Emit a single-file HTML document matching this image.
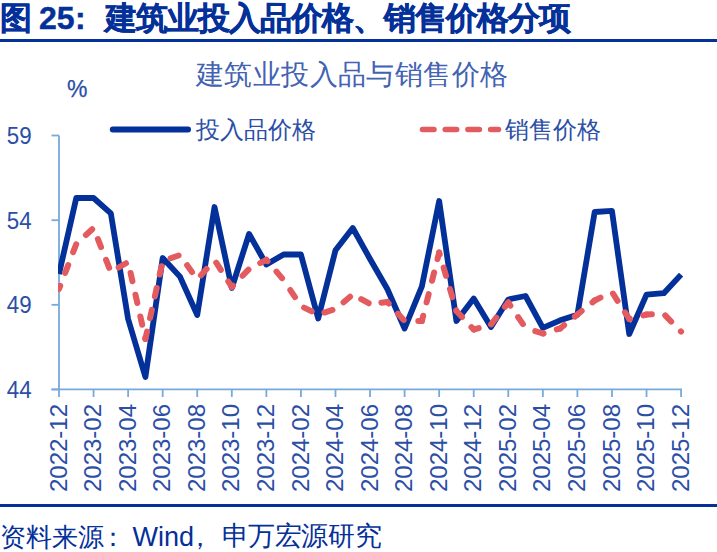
<!DOCTYPE html>
<html><head><meta charset="utf-8"><style>
html,body{margin:0;padding:0;background:#fff;width:717px;height:552px;overflow:hidden}
svg{position:absolute;left:0;top:0}
text{font-family:"Liberation Sans",sans-serif}
.yl{font-size:24px;fill:#2B4EA6}
.xl{font-size:24px;fill:#2B4EA6}
.lg{font-size:24.3px;fill:#2B4EA6}
.ct{font-size:28px;fill:#4262B2;letter-spacing:0.4px}
.pc{font-size:23px;fill:#2B4EA6;stroke:#2B4EA6;stroke-width:0.25px}
.tt{font-size:32px;fill:#04309A;font-weight:bold;stroke:#04309A;stroke-width:0.45px}
.src{font-size:26.3px;fill:#04309A}
</style></head><body>
<svg width="717" height="552" viewBox="0 0 717 552">
<text x="0" y="29.2" class="tt">图</text>
<text x="39" y="29.2" class="tt">25</text>
<text x="75" y="29.2" class="tt">:</text>
<text x="104.5" y="29.2" class="tt" style="letter-spacing:-0.95px">建筑业投入品价格、销售价格分项</text>
<rect x="0" y="39" width="717" height="3" fill="#04309A"/>
<line x1="59.0" y1="135.5" x2="59.0" y2="389.5" stroke="#76A9DC" stroke-width="1.8"/>
<line x1="51.5" y1="135.5" x2="59.0" y2="135.5" stroke="#76A9DC" stroke-width="1.8"/>
<text transform="translate(31.6,144.0) scale(0.93,1)" text-anchor="end" class="yl">59</text>
<line x1="51.5" y1="220.2" x2="59.0" y2="220.2" stroke="#76A9DC" stroke-width="1.8"/>
<text transform="translate(31.6,228.7) scale(0.93,1)" text-anchor="end" class="yl">54</text>
<line x1="51.5" y1="304.8" x2="59.0" y2="304.8" stroke="#76A9DC" stroke-width="1.8"/>
<text transform="translate(31.6,313.3) scale(0.93,1)" text-anchor="end" class="yl">49</text>
<line x1="51.5" y1="389.5" x2="59.0" y2="389.5" stroke="#76A9DC" stroke-width="1.8"/>
<text transform="translate(31.6,398.0) scale(0.93,1)" text-anchor="end" class="yl">44</text>
<line x1="51.5" y1="389.3" x2="682" y2="389.3" stroke="#76A9DC" stroke-width="1.8"/>
<line x1="59.00" y1="389.3" x2="59.00" y2="397" stroke="#76A9DC" stroke-width="1.8"/>
<text transform="translate(66.60,404) scale(0.985,1) rotate(-90)" text-anchor="end" class="xl">2022-12</text>
<line x1="93.56" y1="389.3" x2="93.56" y2="397" stroke="#76A9DC" stroke-width="1.8"/>
<text transform="translate(101.16,404) scale(0.985,1) rotate(-90)" text-anchor="end" class="xl">2023-02</text>
<line x1="128.12" y1="389.3" x2="128.12" y2="397" stroke="#76A9DC" stroke-width="1.8"/>
<text transform="translate(135.72,404) scale(0.985,1) rotate(-90)" text-anchor="end" class="xl">2023-04</text>
<line x1="162.68" y1="389.3" x2="162.68" y2="397" stroke="#76A9DC" stroke-width="1.8"/>
<text transform="translate(170.28,404) scale(0.985,1) rotate(-90)" text-anchor="end" class="xl">2023-06</text>
<line x1="197.24" y1="389.3" x2="197.24" y2="397" stroke="#76A9DC" stroke-width="1.8"/>
<text transform="translate(204.84,404) scale(0.985,1) rotate(-90)" text-anchor="end" class="xl">2023-08</text>
<line x1="231.80" y1="389.3" x2="231.80" y2="397" stroke="#76A9DC" stroke-width="1.8"/>
<text transform="translate(239.40,404) scale(0.985,1) rotate(-90)" text-anchor="end" class="xl">2023-10</text>
<line x1="266.36" y1="389.3" x2="266.36" y2="397" stroke="#76A9DC" stroke-width="1.8"/>
<text transform="translate(273.96,404) scale(0.985,1) rotate(-90)" text-anchor="end" class="xl">2023-12</text>
<line x1="300.92" y1="389.3" x2="300.92" y2="397" stroke="#76A9DC" stroke-width="1.8"/>
<text transform="translate(308.52,404) scale(0.985,1) rotate(-90)" text-anchor="end" class="xl">2024-02</text>
<line x1="335.48" y1="389.3" x2="335.48" y2="397" stroke="#76A9DC" stroke-width="1.8"/>
<text transform="translate(343.08,404) scale(0.985,1) rotate(-90)" text-anchor="end" class="xl">2024-04</text>
<line x1="370.04" y1="389.3" x2="370.04" y2="397" stroke="#76A9DC" stroke-width="1.8"/>
<text transform="translate(377.64,404) scale(0.985,1) rotate(-90)" text-anchor="end" class="xl">2024-06</text>
<line x1="404.60" y1="389.3" x2="404.60" y2="397" stroke="#76A9DC" stroke-width="1.8"/>
<text transform="translate(412.20,404) scale(0.985,1) rotate(-90)" text-anchor="end" class="xl">2024-08</text>
<line x1="439.16" y1="389.3" x2="439.16" y2="397" stroke="#76A9DC" stroke-width="1.8"/>
<text transform="translate(446.76,404) scale(0.985,1) rotate(-90)" text-anchor="end" class="xl">2024-10</text>
<line x1="473.72" y1="389.3" x2="473.72" y2="397" stroke="#76A9DC" stroke-width="1.8"/>
<text transform="translate(481.32,404) scale(0.985,1) rotate(-90)" text-anchor="end" class="xl">2024-12</text>
<line x1="508.28" y1="389.3" x2="508.28" y2="397" stroke="#76A9DC" stroke-width="1.8"/>
<text transform="translate(515.88,404) scale(0.985,1) rotate(-90)" text-anchor="end" class="xl">2025-02</text>
<line x1="542.84" y1="389.3" x2="542.84" y2="397" stroke="#76A9DC" stroke-width="1.8"/>
<text transform="translate(550.44,404) scale(0.985,1) rotate(-90)" text-anchor="end" class="xl">2025-04</text>
<line x1="577.40" y1="389.3" x2="577.40" y2="397" stroke="#76A9DC" stroke-width="1.8"/>
<text transform="translate(585.00,404) scale(0.985,1) rotate(-90)" text-anchor="end" class="xl">2025-06</text>
<line x1="611.96" y1="389.3" x2="611.96" y2="397" stroke="#76A9DC" stroke-width="1.8"/>
<text transform="translate(619.56,404) scale(0.985,1) rotate(-90)" text-anchor="end" class="xl">2025-08</text>
<line x1="646.52" y1="389.3" x2="646.52" y2="397" stroke="#76A9DC" stroke-width="1.8"/>
<text transform="translate(654.12,404) scale(0.985,1) rotate(-90)" text-anchor="end" class="xl">2025-10</text>
<line x1="681.08" y1="389.3" x2="681.08" y2="397" stroke="#76A9DC" stroke-width="1.8"/>
<text transform="translate(688.68,404) scale(0.985,1) rotate(-90)" text-anchor="end" class="xl">2025-12</text>
<clipPath id="pc"><rect x="58" y="100" width="659" height="300"/></clipPath><g clip-path="url(#pc)">
<polyline points="59.00,274.00 76.28,198.00 93.56,198.00 110.84,213.40 128.12,319.00 145.40,377.00 162.68,258.00 179.96,276.60 197.24,315.00 214.52,207.00 231.80,288.00 249.08,234.00 266.36,264.50 283.64,254.50 300.92,254.50 318.20,318.50 335.48,250.30 352.76,228.00 370.04,259.00 387.32,289.00 404.60,328.50 421.88,286.40 439.16,201.00 456.44,321.00 473.72,298.50 491.00,327.00 508.28,299.50 525.56,296.00 542.84,327.80 560.12,320.30 577.40,314.80 594.68,212.00 611.96,210.90 629.24,334.00 646.52,294.70 663.80,293.20 681.08,274.60" fill="none" stroke="#04309A" stroke-width="5.8" stroke-linejoin="round"/>
<path d="M59.00 289.00L76.28 244.00" fill="none" stroke="#E35B5F" stroke-width="6" stroke-dasharray="8.5 13.80" stroke-dashoffset="5.16" stroke-linecap="round"/>
<path d="M76.28 244.00L93.56 228.00" fill="none" stroke="#E35B5F" stroke-width="6" stroke-dasharray="8.5 13.80" stroke-dashoffset="9.15" stroke-linecap="round"/>
<path d="M93.56 228.00L110.84 272.00" fill="none" stroke="#E35B5F" stroke-width="6" stroke-dasharray="8.5 13.80" stroke-dashoffset="10.33" stroke-linecap="round"/>
<path d="M110.84 272.00L128.12 262.00" fill="none" stroke="#E35B5F" stroke-width="6" stroke-dasharray="8.5 13.80" stroke-dashoffset="13.29" stroke-linecap="round"/>
<path d="M128.12 262.00L145.40 339.00" fill="none" stroke="#E35B5F" stroke-width="6" stroke-dasharray="8.5 13.80" stroke-dashoffset="11.10" stroke-linecap="round"/>
<path d="M145.40 339.00L162.68 261.00" fill="none" stroke="#E35B5F" stroke-width="6" stroke-dasharray="8.5 13.80" stroke-dashoffset="0.90" stroke-linecap="round"/>
<path d="M162.68 261.00L179.96 255.00" fill="none" stroke="#E35B5F" stroke-width="6" stroke-dasharray="8.5 13.80" stroke-dashoffset="13.95" stroke-linecap="round"/>
<path d="M179.96 255.00L197.24 279.50" fill="none" stroke="#E35B5F" stroke-width="6" stroke-dasharray="8.5 13.80" stroke-dashoffset="9.85" stroke-linecap="round"/>
<path d="M197.24 279.50L214.52 260.00" fill="none" stroke="#E35B5F" stroke-width="6" stroke-dasharray="8.5 13.80" stroke-dashoffset="16.65" stroke-linecap="round"/>
<path d="M214.52 260.00L231.80 287.00" fill="none" stroke="#E35B5F" stroke-width="6" stroke-dasharray="8.5 13.80" stroke-dashoffset="19.07" stroke-linecap="round"/>
<path d="M231.80 287.00L249.08 269.00" fill="none" stroke="#E35B5F" stroke-width="6" stroke-dasharray="8.5 13.80" stroke-dashoffset="6.75" stroke-linecap="round"/>
<path d="M249.08 269.00L266.36 259.80" fill="none" stroke="#E35B5F" stroke-width="6" stroke-dasharray="8.5 13.80" stroke-dashoffset="9.69" stroke-linecap="round"/>
<path d="M266.36 259.80L283.64 280.00" fill="none" stroke="#E35B5F" stroke-width="6" stroke-dasharray="8.5 13.80" stroke-dashoffset="6.70" stroke-linecap="round"/>
<path d="M283.64 280.00L300.92 306.00" fill="none" stroke="#E35B5F" stroke-width="6" stroke-dasharray="8.5 13.80" stroke-dashoffset="10.25" stroke-linecap="round"/>
<path d="M300.92 306.00L318.20 314.50" fill="none" stroke="#E35B5F" stroke-width="6" stroke-dasharray="8.5 13.80" stroke-dashoffset="18.74" stroke-linecap="round"/>
<path d="M318.20 314.50L335.48 309.00" fill="none" stroke="#E35B5F" stroke-width="6" stroke-dasharray="8.5 13.80" stroke-dashoffset="15.82" stroke-linecap="round"/>
<path d="M335.48 309.00L352.76 294.50" fill="none" stroke="#E35B5F" stroke-width="6" stroke-dasharray="8.5 13.80" stroke-dashoffset="11.76" stroke-linecap="round"/>
<path d="M352.76 294.50L370.04 304.00" fill="none" stroke="#E35B5F" stroke-width="6" stroke-dasharray="8.5 13.80" stroke-dashoffset="12.66" stroke-linecap="round"/>
<path d="M370.04 304.00L387.32 302.00" fill="none" stroke="#E35B5F" stroke-width="6" stroke-dasharray="8.5 13.80" stroke-dashoffset="10.86" stroke-linecap="round"/>
<path d="M387.32 302.00L404.60 321.00" fill="none" stroke="#E35B5F" stroke-width="6" stroke-dasharray="8.5 13.80" stroke-dashoffset="6.45" stroke-linecap="round"/>
<path d="M404.60 321.00L421.88 321.00" fill="none" stroke="#E35B5F" stroke-width="6" stroke-dasharray="8.5 13.80" stroke-dashoffset="8.61" stroke-linecap="round"/>
<path d="M421.88 321.00L439.16 252.50" fill="none" stroke="#E35B5F" stroke-width="6" stroke-dasharray="8.5 13.80" stroke-dashoffset="3.10" stroke-linecap="round"/>
<path d="M439.16 252.50L456.44 311.00" fill="none" stroke="#E35B5F" stroke-width="6" stroke-dasharray="8.5 13.80" stroke-dashoffset="6.53" stroke-linecap="round"/>
<path d="M456.44 311.00L473.72 329.50" fill="none" stroke="#E35B5F" stroke-width="6" stroke-dasharray="8.5 13.80" stroke-dashoffset="0.30" stroke-linecap="round"/>
<path d="M473.72 329.50L491.00 324.50" fill="none" stroke="#E35B5F" stroke-width="6" stroke-dasharray="8.5 13.80" stroke-dashoffset="3.30" stroke-linecap="round"/>
<path d="M491.00 324.50L508.28 302.50" fill="none" stroke="#E35B5F" stroke-width="6" stroke-dasharray="8.5 13.80" stroke-dashoffset="22.14" stroke-linecap="round"/>
<path d="M508.28 302.50L525.56 328.00" fill="none" stroke="#E35B5F" stroke-width="6" stroke-dasharray="8.5 13.80" stroke-dashoffset="4.69" stroke-linecap="round"/>
<path d="M525.56 328.00L542.84 333.50" fill="none" stroke="#E35B5F" stroke-width="6" stroke-dasharray="8.5 13.80" stroke-dashoffset="12.10" stroke-linecap="round"/>
<path d="M542.84 333.50L560.12 328.50" fill="none" stroke="#E35B5F" stroke-width="6" stroke-dasharray="8.5 13.80" stroke-dashoffset="7.74" stroke-linecap="round"/>
<path d="M560.12 328.50L577.40 314.50" fill="none" stroke="#E35B5F" stroke-width="6" stroke-dasharray="8.5 13.80" stroke-dashoffset="3.35" stroke-linecap="round"/>
<path d="M577.40 314.50L594.68 300.50" fill="none" stroke="#E35B5F" stroke-width="6" stroke-dasharray="8.5 13.80" stroke-dashoffset="2.94" stroke-linecap="round"/>
<path d="M594.68 300.50L611.96 292.00" fill="none" stroke="#E35B5F" stroke-width="6" stroke-dasharray="8.5 13.80" stroke-dashoffset="2.03" stroke-linecap="round"/>
<path d="M611.96 292.00L629.24 319.00" fill="none" stroke="#E35B5F" stroke-width="6" stroke-dasharray="8.5 13.80" stroke-dashoffset="20.38" stroke-linecap="round"/>
<path d="M629.24 319.00L646.52 314.50" fill="none" stroke="#E35B5F" stroke-width="6" stroke-dasharray="8.5 13.80" stroke-dashoffset="7.75" stroke-linecap="round"/>
<path d="M646.52 314.50L663.80 314.00" fill="none" stroke="#E35B5F" stroke-width="6" stroke-dasharray="8.5 13.80" stroke-dashoffset="3.17" stroke-linecap="round"/>
<path d="M663.80 314.00L681.08 331.60" fill="none" stroke="#E35B5F" stroke-width="6" stroke-dasharray="8.5 13.80" stroke-dashoffset="20.24" stroke-linecap="round"/>
</g>
<line x1="112.8" y1="129.6" x2="188" y2="129.6" stroke="#04309A" stroke-width="6" stroke-linecap="round"/>
<line x1="422.5" y1="129.6" x2="498.5" y2="129.6" stroke="#E35B5F" stroke-width="5.5" stroke-dasharray="11.5 11.2" stroke-linecap="round"/>
<text x="196" y="137.8" class="lg">投入品价格</text>
<text x="505" y="137.8" class="lg">销售价格</text>
<text x="196" y="84" class="ct">建筑业投入品与销售价格</text>
<text x="67" y="96.5" class="pc">%</text>
<rect x="0" y="504" width="717" height="3" fill="#04309A"/>
<text x="0" y="545.5" class="src">资料来源</text><text x="100" y="545.5" class="src">：</text><text x="132.5" y="545.5" class="src" style="font-size:27px">Wind</text><text x="186.5" y="545.5" class="src">，</text><text x="221.5" y="544.5" class="src" style="font-size:27px;letter-spacing:-0.4px">申万宏源研究</text>
</svg>
</body></html>
